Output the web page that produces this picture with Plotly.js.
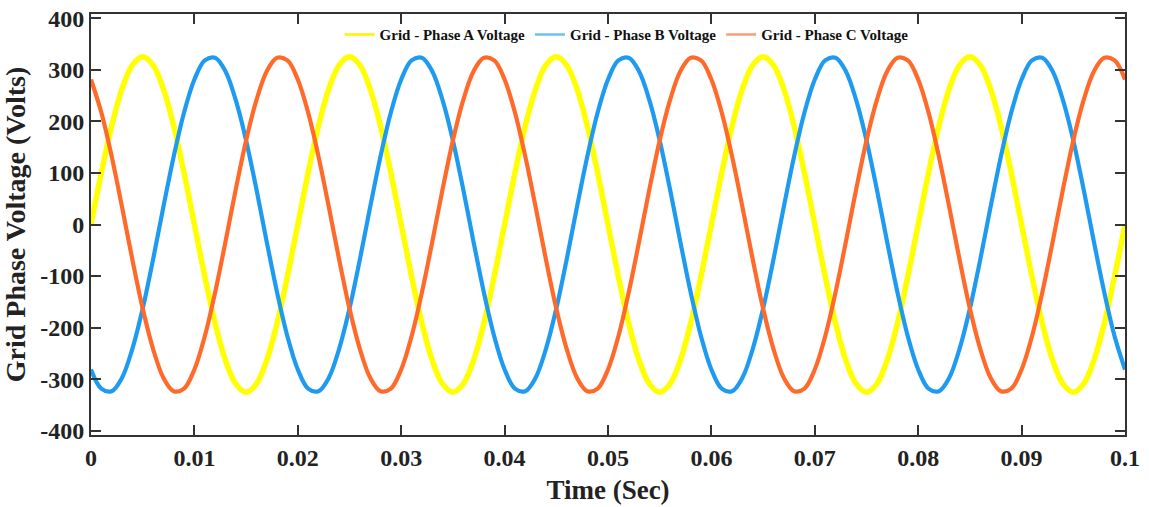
<!DOCTYPE html>
<html>
<head>
<meta charset="utf-8">
<script src="https://cdn.plot.ly/plotly-3.0.1.min.js"></script>
<style>html,body{margin:0;padding:0;background:#fff;}#chart{width:1149px;height:507px;}</style>
</head>
<body>
<div id="chart"></div>
<script>
// Time samples (s)
const timeSec = [0,0.001,0.002,0.003,0.004,0.005,0.006,0.007,0.008,0.009,
0.010,0.011,0.012,0.013,0.014,0.015,0.016,0.017,0.018,0.019,
0.020,0.021,0.022,0.023,0.024,0.025,0.026,0.027,0.028,0.029,
0.030,0.031,0.032,0.033,0.034,0.035,0.036,0.037,0.038,0.039,
0.040,0.041,0.042,0.043,0.044,0.045,0.046,0.047,0.048,0.049,
0.050,0.051,0.052,0.053,0.054,0.055,0.056,0.057,0.058,0.059,
0.060,0.061,0.062,0.063,0.064,0.065,0.066,0.067,0.068,0.069,
0.070,0.071,0.072,0.073,0.074,0.075,0.076,0.077,0.078,0.079,
0.080,0.081,0.082,0.083,0.084,0.085,0.086,0.087,0.088,0.089,
0.090,0.091,0.092,0.093,0.094,0.095,0.096,0.097,0.098,0.099,0.100];

// Phase A voltage (V)
const phaseA = [0,100,191,263,309,325,309,263,191,100,
0,-100,-191,-263,-309,-325,-309,-263,-191,-100,
0,100,191,263,309,325,309,263,191,100,
0,-100,-191,-263,-309,-325,-309,-263,-191,-100,
0,100,191,263,309,325,309,263,191,100,
0,-100,-191,-263,-309,-325,-309,-263,-191,-100,
0,100,191,263,309,325,309,263,191,100,
0,-100,-191,-263,-309,-325,-309,-263,-191,-100,
0,100,191,263,309,325,309,263,191,100,
0,-100,-191,-263,-309,-325,-309,-263,-191,-100,0];

// Phase B voltage (V)
const phaseB = [-281,-318,-323,-297,-241,-163,-68,34,132,217,
281,318,323,297,241,163,68,-34,-132,-217,
-281,-318,-323,-297,-241,-163,-68,34,132,217,
281,318,323,297,241,163,68,-34,-132,-217,
-281,-318,-323,-297,-241,-163,-68,34,132,217,
281,318,323,297,241,163,68,-34,-132,-217,
-281,-318,-323,-297,-241,-163,-68,34,132,217,
281,318,323,297,241,163,68,-34,-132,-217,
-281,-318,-323,-297,-241,-163,-68,34,132,217,
281,318,323,297,241,163,68,-34,-132,-217,-281];

// Phase C voltage (V)
const phaseC = [281,217,132,34,-68,-163,-241,-297,-323,-318,
-281,-217,-132,-34,68,163,241,297,323,318,
281,217,132,34,-68,-163,-241,-297,-323,-318,
-281,-217,-132,-34,68,163,241,297,323,318,
281,217,132,34,-68,-163,-241,-297,-323,-318,
-281,-217,-132,-34,68,163,241,297,323,318,
281,217,132,34,-68,-163,-241,-297,-323,-318,
-281,-217,-132,-34,68,163,241,297,323,318,
281,217,132,34,-68,-163,-241,-297,-323,-318,
-281,-217,-132,-34,68,163,241,297,323,318,281];

const seriesNames = ['Grid - Phase A Voltage','Grid - Phase B Voltage','Grid - Phase C Voltage'];
const seriesColors = ['#FFFF00','#1E9BF0','#FF6A2B'];
const legendColors = ['#FFF200','#6CC2F7','#FF9B75'];
const xTickVals = [0,0.01,0.02,0.03,0.04,0.05,0.06,0.07,0.08,0.09,0.1];
const xTickText = ['0','0.01','0.02','0.03','0.04','0.05','0.06','0.07','0.08','0.09','0.1'];
const yTickVals = [-400,-300,-200,-100,0,100,200,300,400];
const yTickText = ['-400','-300','-200','-100','0','100','200','300','400'];

const font = 'Liberation Serif';
const seriesData = [phaseA, phaseB, phaseC];
const widths = [5.5, 4.2, 4.2];

const traces = [];
// plotted curves (legend handled by thin-line entries below)
for (let i = 0; i < 3; i++) {
  traces.push({x: timeSec, y: seriesData[i], name: seriesNames[i], mode: 'lines', showlegend: false,
               line: {color: seriesColors[i], width: widths[i], shape: 'spline'}});
}
// legend entries with thin lines, as in the reference
for (let i = 0; i < 3; i++) {
  traces.push({x: [null], y: [null], name: seriesNames[i], mode: 'lines', showlegend: true,
               line: {color: legendColors[i], width: 2.5}});
}

const axisCommon = {
  showline: true, linecolor: '#333', linewidth: 2, mirror: 'ticks',
  ticks: 'inside', ticklen: 10, tickwidth: 2, tickcolor: '#333',
  showgrid: false, zeroline: false,
  tickfont: {family: font, size: 24, color: '#222', weight: 700}
};

const layout = {
  width: 1149, height: 507,
  margin: {l: 91, r: 24, t: 14, b: 72},
  paper_bgcolor: '#fff', plot_bgcolor: '#fff',
  font: {family: font},
  showlegend: true,
  legend: {orientation: 'h', x: 0.518, xanchor: 'center', y: 0.99, yanchor: 'top',
           bgcolor: 'rgba(0,0,0,0)', font: {family: font, size: 15, color: '#111', weight: 700},
           itemwidth: 30, tracegroupgap: 0},
  xaxis: Object.assign({}, axisCommon, {
    range: [0, 0.1], tickmode: 'array', tickvals: xTickVals, ticktext: xTickText,
    title: {text: 'Time (Sec)', font: {family: font, size: 27, color: '#222', weight: 700}, standoff: 10}
  }),
  yaxis: Object.assign({}, axisCommon, {
    range: [-408, 408], tickmode: 'array', tickvals: yTickVals, ticktext: yTickText,
    title: {text: 'Grid Phase Voltage (Volts)', font: {family: font, size: 28, color: '#222', weight: 700}, standoff: 6}
  })
};

Plotly.newPlot('chart', traces, layout, {displayModeBar: false, staticPlot: true});
</script>
</body>
</html>
